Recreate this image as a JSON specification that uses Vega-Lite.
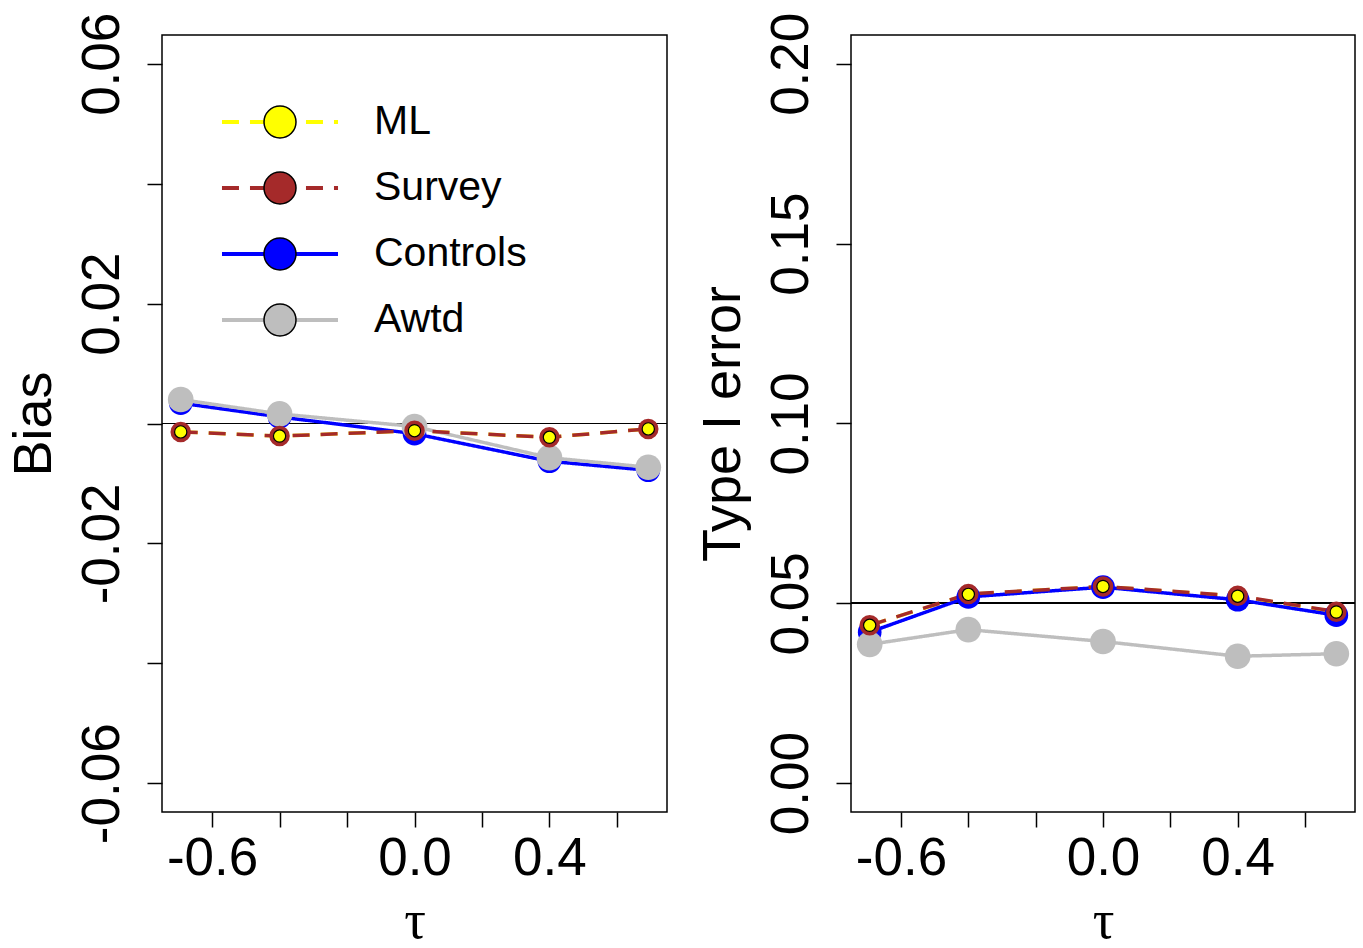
{
  "$schema": "https://vega.github.io/schema/vega-lite/v6.json",
  "padding": {"left": 6, "top": 11, "right": 5, "bottom": 0},
  "bounds": "flush",
  "spacing": 184,
  "background": "white",
  "data": {"values": [
    {"tau": -0.693, "method": "Controls", "bias": 0.0034, "type1": 0.0420},
    {"tau": -0.693, "method": "Awtd", "bias": 0.0040, "type1": 0.0386},
    {"tau": -0.693, "method": "Survey", "bias": -0.0014, "type1": 0.0439},
    {"tau": -0.693, "method": "ML", "bias": -0.0014, "type1": 0.0439},
    {"tau": -0.4, "method": "Controls", "bias": 0.0011, "type1": 0.0518},
    {"tau": -0.4, "method": "Awtd", "bias": 0.0016, "type1": 0.0427},
    {"tau": -0.4, "method": "Survey", "bias": -0.0021, "type1": 0.0526},
    {"tau": -0.4, "method": "ML", "bias": -0.0021, "type1": 0.0525},
    {"tau": 0, "method": "Controls", "bias": -0.0017, "type1": 0.0545},
    {"tau": 0, "method": "Awtd", "bias": -0.0005, "type1": 0.0394},
    {"tau": 0, "method": "Survey", "bias": -0.0012, "type1": 0.0547},
    {"tau": 0, "method": "ML", "bias": -0.0012, "type1": 0.0547},
    {"tau": 0.4, "method": "Controls", "bias": -0.0063, "type1": 0.0510},
    {"tau": 0.4, "method": "Awtd", "bias": -0.0057, "type1": 0.0353},
    {"tau": 0.4, "method": "Survey", "bias": -0.0023, "type1": 0.0521},
    {"tau": 0.4, "method": "ML", "bias": -0.0023, "type1": 0.0520},
    {"tau": 0.693, "method": "Controls", "bias": -0.0078, "type1": 0.0467},
    {"tau": 0.693, "method": "Awtd", "bias": -0.0073, "type1": 0.0360},
    {"tau": 0.693, "method": "Survey", "bias": -0.0009, "type1": 0.0477},
    {"tau": 0.693, "method": "ML", "bias": -0.0009, "type1": 0.0476}
  ]},
  "config": {
    "view": {"stroke": "black", "strokeWidth": 1.5},
    "font": "Liberation Sans",
    "axis": {
      "grid": false, "domain": false,
      "tickColor": "black", "tickWidth": 1.5, "tickSize": 15,
      "labelFont": "Liberation Sans", "labelFontSize": 53, "labelColor": "black",
      "titleFont": "Liberation Sans", "titleFontSize": 54, "titleColor": "black", "titleFontWeight": "normal",
      "labelOverlap": false, "labelFlush": false, "labelBound": false
    }
  },
  "hconcat": [
    {
      "width": 505, "height": 777,
      "layer": [
        {
          "mark": {"type": "rule", "color": "black", "strokeWidth": 1.2},
          "encoding": {"y": {"datum": 0, "type": "quantitative"}}
        },
        {
          "transform": [{"filter": "datum.method == 'ML'"}],
          "mark": {"type": "line", "strokeWidth": 3.5},
          "encoding": {
            "x": {"field": "tau", "type": "quantitative", "scale": {"domain": [-0.7485, 0.7485], "nice": false, "zero": false},
              "axis": {"values": [-0.6, -0.4, -0.2, 0, 0.2, 0.4, 0.6],
                "labelExpr": "datum.value == -0.6 ? '-0.6' : datum.value == 0 ? '0.0' : datum.value == 0.4 ? '0.4' : ''",
                "labelAlign": "center", "labelBaseline": "alphabetic", "labelPadding": 47,
                "titleFont": "Liberation Serif", "titleBaseline": "alphabetic", "titleY": 125},
              "title": "τ"},
            "y": {"field": "bias", "type": "quantitative", "scale": {"domain": [-0.0648, 0.0648], "nice": false, "zero": false},
              "axis": {"values": [-0.06, -0.04, -0.02, 0, 0.02, 0.04, 0.06],
                "labelExpr": "datum.value == 0.06 ? '0.06' : datum.value == 0.02 ? '0.02' : datum.value == -0.02 ? '-0.02' : datum.value == -0.06 ? '-0.06' : ''",
                "labelAngle": -90, "labelAlign": "center", "labelBaseline": "alphabetic", "labelPadding": 29,
                "titleAngle": -90, "titleAlign": "center", "titleBaseline": "alphabetic", "titleX": -112},
              "title": "Bias"},
            "stroke": {"field": "method", "type": "nominal",
              "scale": {"domain": ["ML", "Survey", "Controls", "Awtd"], "range": ["#FFFF00", "#A52A2A", "#0000FF", "#BEBEBE"]},
              "legend": {"orient": "none", "legendX": 97.5, "legendY": 66.5, "title": null, "padding": 0,
                "symbolType": "M-6,0L6,0", "symbolSize": 374, "symbolStrokeWidth": 4,
                "labelFont": "Liberation Sans", "labelFontSize": 41, "labelColor": "black", "labelOffset": 73.5, "labelLimit": 400,
                "rowPadding": 24, "zindex": 1}},
            "strokeDash": {"field": "method", "type": "nominal",
              "scale": {"domain": ["ML", "Survey", "Controls", "Awtd"], "range": [[17, 11], [17, 11], [1, 0], [1, 0]]},
              "legend": {"orient": "none", "legendX": 97.5, "legendY": 66.5, "title": null, "padding": 0,
                "symbolType": "M-6,0L6,0", "symbolSize": 374, "symbolStrokeWidth": 4,
                "labelFont": "Liberation Sans", "labelFontSize": 41, "labelColor": "black", "labelOffset": 73.5, "labelLimit": 400,
                "rowPadding": 24, "zindex": 1}}
          }
        },
        {
          "transform": [{"filter": "datum.method != 'ML'"}],
          "mark": {"type": "line", "strokeWidth": 3.5},
          "encoding": {
            "x": {"field": "tau", "type": "quantitative"},
            "y": {"field": "bias", "type": "quantitative"},
            "stroke": {"field": "method", "type": "nominal",
              "scale": {"domain": ["ML", "Survey", "Controls", "Awtd"], "range": ["#FFFF00", "#A52A2A", "#0000FF", "#BEBEBE"]},
              "legend": {"orient": "none", "legendX": 97.5, "legendY": 66.5, "title": null, "padding": 0,
                "symbolType": "M-6,0L6,0", "symbolSize": 374, "symbolStrokeWidth": 4,
                "labelFont": "Liberation Sans", "labelFontSize": 41, "labelColor": "black", "labelOffset": 73.5, "labelLimit": 400,
                "rowPadding": 24, "zindex": 1}},
            "strokeDash": {"field": "method", "type": "nominal",
              "scale": {"domain": ["ML", "Survey", "Controls", "Awtd"], "range": [[17, 11], [17, 11], [1, 0], [1, 0]]},
              "legend": {"orient": "none", "legendX": 97.5, "legendY": 66.5, "title": null, "padding": 0,
                "symbolType": "M-6,0L6,0", "symbolSize": 374, "symbolStrokeWidth": 4,
                "labelFont": "Liberation Sans", "labelFontSize": 41, "labelColor": "black", "labelOffset": 73.5, "labelLimit": 400,
                "rowPadding": 24, "zindex": 1}}
          }
        },
        {
          "mark": {"type": "point", "filled": true, "opacity": 1, "stroke": "black"},
          "encoding": {
            "x": {"field": "tau", "type": "quantitative"},
            "y": {"field": "bias", "type": "quantitative"},
            "fill": {"field": "method", "type": "nominal", "sort": ["ML", "Survey", "Controls", "Awtd"],
              "scale": {"range": ["#FFFF00", "#A52A2A", "#0000FF", "#BEBEBE"]},
              "legend": {"orient": "none", "legendX": 97.5, "legendY": 66.5, "title": null, "padding": 0,
                "symbolType": "circle", "symbolSize": 1024, "symbolStrokeColor": "black", "symbolStrokeWidth": 1.5, "symbolOpacity": 1,
                "labelFont": "Liberation Sans", "labelFontSize": 41, "labelOpacity": 0, "labelOffset": 73.5,
                "rowPadding": 24, "zindex": 2}},
            "size": {"condition": [
              {"test": "datum.method == 'ML'", "value": 150},
              {"test": "datum.method == 'Survey'", "value": 420},
              {"test": "datum.method == 'Controls'", "value": 560}], "value": 660},
            "strokeWidth": {"condition": {"test": "datum.method == 'ML'", "value": 1.2}, "value": 0}
          }
        }
      ]
    },
    {
      "width": 504, "height": 777,
      "layer": [
        {
          "mark": {"type": "rule", "color": "black", "strokeWidth": 1.2},
          "encoding": {"y": {"datum": 0.05, "type": "quantitative"}}
        },
        {
          "transform": [{"filter": "datum.method == 'ML'"}],
          "mark": {"type": "line", "strokeWidth": 3.5},
          "encoding": {
            "x": {"field": "tau", "type": "quantitative", "scale": {"domain": [-0.7485, 0.7485], "nice": false, "zero": false},
              "axis": {"values": [-0.6, -0.4, -0.2, 0, 0.2, 0.4, 0.6],
                "labelExpr": "datum.value == -0.6 ? '-0.6' : datum.value == 0 ? '0.0' : datum.value == 0.4 ? '0.4' : ''",
                "labelAlign": "center", "labelBaseline": "alphabetic", "labelPadding": 47,
                "titleFont": "Liberation Serif", "titleBaseline": "alphabetic", "titleY": 125},
              "title": "τ"},
            "y": {"field": "type1", "type": "quantitative", "scale": {"domain": [-0.008, 0.208], "nice": false, "zero": false},
              "axis": {"values": [0, 0.05, 0.1, 0.15, 0.2],
                "labelExpr": "format(datum.value, '.2f')",
                "labelAngle": -90, "labelAlign": "center", "labelBaseline": "alphabetic", "labelPadding": 29,
                "titleAngle": -90, "titleAlign": "center", "titleBaseline": "alphabetic", "titleX": -112},
              "title": "Type I error"},
            "stroke": {"field": "method", "type": "nominal",
              "scale": {"domain": ["ML", "Survey", "Controls", "Awtd"], "range": ["#FFFF00", "#A52A2A", "#0000FF", "#BEBEBE"]},
              "legend": null},
            "strokeDash": {"field": "method", "type": "nominal",
              "scale": {"domain": ["ML", "Survey", "Controls", "Awtd"], "range": [[17, 11], [17, 11], [1, 0], [1, 0]]},
              "legend": null}
          }
        },
        {
          "transform": [{"filter": "datum.method != 'ML'"}],
          "mark": {"type": "line", "strokeWidth": 3.5},
          "encoding": {
            "x": {"field": "tau", "type": "quantitative"},
            "y": {"field": "type1", "type": "quantitative"},
            "stroke": {"field": "method", "type": "nominal",
              "scale": {"domain": ["ML", "Survey", "Controls", "Awtd"], "range": ["#FFFF00", "#A52A2A", "#0000FF", "#BEBEBE"]},
              "legend": null},
            "strokeDash": {"field": "method", "type": "nominal",
              "scale": {"domain": ["ML", "Survey", "Controls", "Awtd"], "range": [[17, 11], [17, 11], [1, 0], [1, 0]]},
              "legend": null}
          }
        },
        {
          "mark": {"type": "point", "filled": true, "opacity": 1, "stroke": "black"},
          "encoding": {
            "x": {"field": "tau", "type": "quantitative"},
            "y": {"field": "type1", "type": "quantitative"},
            "fill": {"field": "method", "type": "nominal", "sort": ["ML", "Survey", "Controls", "Awtd"],
              "scale": {"range": ["#FFFF00", "#A52A2A", "#0000FF", "#BEBEBE"]},
              "legend": null},
            "size": {"condition": [
              {"test": "datum.method == 'ML'", "value": 150},
              {"test": "datum.method == 'Survey'", "value": 420},
              {"test": "datum.method == 'Controls'", "value": 560}], "value": 660},
            "strokeWidth": {"condition": {"test": "datum.method == 'ML'", "value": 1.2}, "value": 0}
          }
        }
      ]
    }
  ]
}
